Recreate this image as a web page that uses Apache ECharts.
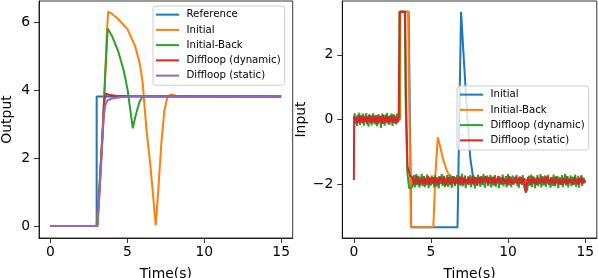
<!DOCTYPE html>
<html><head><meta charset="utf-8">
<script src="https://cdn.jsdelivr.net/npm/echarts@6/dist/echarts.min.js"></script>
<style>html,body{margin:0;padding:0;background:#fff}#c{width:598px;height:278px}</style>
</head><body><div id="c"></div>
<script>
// ---------- Tick labels ----------
const xTicks = [0, 5, 10, 15];
const yTicksLeft = [0, 2, 4, 6];
const yTicksRight = [-2, 0, 2];

// ---------- Left plot (Output) ----------
const refT = [0, 3.0, 3.0, 15];
const refV = [0, 0, 3.82, 3.82];

const initT = [0, 3.0, 3.2, 3.4, 3.55, 3.65, 3.75, 4.0, 4.4, 5.0, 5.5, 5.8, 6.0, 6.1, 6.25, 6.5, 6.7, 6.84, 7.0, 7.2, 7.4, 7.6, 7.85, 8.2, 15];
const initV = [0, 0, 1.3, 2.9, 4.4, 5.6, 6.32, 6.25, 6.1, 5.8, 5.3, 4.8, 4.2, 3.6, 2.8, 1.75, 0.75, 0.02, 1.0, 2.4, 3.4, 3.8, 3.88, 3.83, 3.82];

const backT = [0, 3.0, 3.2, 3.4, 3.55, 3.72, 4.0, 4.4, 4.75, 5.0, 5.15, 5.35, 5.5, 5.65, 5.8, 5.95, 6.15, 15];
const backV = [0, 0, 1.3, 2.9, 4.4, 5.82, 5.6, 5.15, 4.6, 4.05, 3.55, 2.88, 3.2, 3.45, 3.68, 3.79, 3.82, 3.82];

const dynT = [0, 3.05, 3.2, 3.35, 3.5, 3.6, 3.8, 4.2, 5.0, 15];
const dynV = [0, 0, 1.15, 2.45, 3.7, 3.9, 3.87, 3.84, 3.83, 3.82];

const statT = [0, 3.05, 3.2, 3.35, 3.45, 3.55, 3.7, 4.0, 4.6, 5.5, 15];
const statV = [0, 0, 1.1, 2.3, 3.15, 3.55, 3.7, 3.76, 3.8, 3.82, 3.82];

// ---------- Right plot (Input) ----------
const uInitT = [0, 3.0, 3.0, 3.55, 3.72, 6.72, 6.95, 7.15, 7.35, 7.55, 7.7, 7.85, 15];
const uInitV = [0, 0, 3.33, 3.33, -3.33, -3.33, 3.33, 1.7, 0.1, -1.2, -1.7, -1.87, -1.87];

const uBackT = [0, 3.0, 3.0, 3.52, 3.7, 5.15, 5.3, 5.44, 5.6, 5.8, 6.0, 6.2, 6.45, 15];
const uBackV = [0, 0, 3.33, 3.33, -3.33, -3.33, -1.6, -0.55, -0.85, -1.25, -1.55, -1.76, -1.87, -1.87];

// Noisy signals sampled every SAMPLE_DT seconds
const SAMPLE_DT = 0.05;

// Diffloop (dynamic)
const uDynPreStart = 0.0;
const uDynPre = [
 0.02, 0.19, -0.14, 0.08, -0.20, 0.15, -0.06, 0.21, -0.17, 0.04, 0.13, -0.11, 0.18, -0.19, 0.07,
 -0.03, 0.20, -0.15, 0.10, -0.22, 0.16, -0.08, 0.12, -0.18, 0.05, 0.19, -0.12, 0.09, -0.16, 0.14,
 -0.21, 0.06, 0.17, -0.10, 0.11, -0.26, 0.03, 0.18, -0.14, 0.08, -0.19, 0.15, -0.05, 0.20, -0.13,
 0.10, -0.17, 0.13, -0.07, 0.19, -0.20, 0.04, 0.16, -0.11, 0.09, -0.15, 0.18, -0.09, 0.12];
const uDynStepT = [2.95, 2.96, 3.3, 3.36, 3.46, 3.58];
const uDynStepV = [0.05, 3.33, 3.33, 0.5, -1.6, -2.12];
const uDynPostStart = 3.7;
const uDynPost = [
 -2.08, -2.12, -1.98, -2.05, -1.72, -2.10, -1.86, -1.69, -2.03, -1.93, -1.74, -2.11, -1.81, -1.97, -1.68,
 -2.06, -1.89, -1.75, -2.09, -1.84, -2.01, -1.70, -1.95, -2.12, -1.78, -1.91, -2.04, -1.73, -1.99, -1.83,
 -2.10, -1.71, -1.94, -2.07, -1.80, -1.88, -2.13, -1.76, -2.00, -1.85, -1.69, -2.05, -1.92, -1.74, -2.09,
 -1.82, -1.97, -1.72, -2.08, -1.87, -2.02, -1.70, -1.93, -2.11, -1.79, -1.96, -1.75, -2.06, -1.84, -1.99,
 -1.71, -2.10, -1.88, -1.77, -2.04, -1.92, -1.68, -2.07, -1.83, -1.98, -1.73, -2.12, -1.86, -1.95, -1.76,
 -2.03, -1.90, -1.72, -2.09, -1.81, -2.00, -1.74, -1.94, -2.13, -1.78, -1.87, -2.05, -1.70, -1.97, -1.85,
 -2.08, -1.75, -1.93, -2.02, -1.69, -1.89, -2.11, -1.80, -1.96, -1.73, -2.06, -1.84, -1.99, -1.71, -2.10,
 -1.86, -1.77, -2.04, -1.91, -1.72, -2.08, -1.83, -1.98, -1.74, -2.12, -1.88, -1.79, -2.01, -1.94, -1.70,
 -2.07, -1.82, -1.97, -1.75, -2.10, -1.87, -1.69, -2.03, -1.92, -1.78, -2.09, -1.85, -1.73, -1.99, -2.05,
 -1.80, -1.95, -1.71, -2.06, -1.89, -2.11, -1.76, -1.93, -1.84, -2.02, -1.72, -1.98, -2.08, -2.18, -2.26,
 -2.30, -2.15, -1.88, -1.74, -2.04, -1.91, -1.70, -2.09, -1.83, -1.97, -1.77, -2.12, -1.86, -1.95, -1.72,
 -2.06, -1.81, -1.99, -1.69, -2.10, -1.88, -1.76, -2.03, -1.92, -1.73, -2.08, -1.85, -1.97, -1.71, -2.01,
 -1.84, -2.11, -1.78, -1.94, -2.05, -1.70, -1.90, -2.07, -1.82, -1.98, -1.74, -2.12, -1.87, -1.79, -2.02,
 -1.93, -1.72, -2.09, -1.85, -1.97, -1.68, -2.04, -1.89, -1.75, -2.10, -1.83, -1.96, -1.73, -2.06, -1.88,
 -1.77, -2.02, -1.91, -1.70, -2.08, -1.86, -1.99, -1.74, -2.11, -1.84, -1.95, -1.72, -2.05, -1.90, -1.80,
 -1.97, -1.87];

// Diffloop (static)
const uStatHeadT = [0, 0.02];
const uStatHeadV = [-1.87, 0.10];
const uStatPreStart = 0.1;
const uStatPre = [
 0.12, -0.05, 0.08, -0.12, 0.14, 0.01, -0.09, 0.10, -0.03, 0.13, -0.11, 0.06, -0.07, 0.11, 0.00,
 -0.13, 0.09, -0.04, 0.14, -0.08, 0.05, -0.12, 0.12, -0.01, 0.07, -0.10, 0.13, -0.06, 0.03, -0.14,
 0.10, -0.02, 0.11, -0.09, 0.06, -0.13, 0.14, -0.05, 0.08, -0.11, 0.02, 0.12, -0.07, 0.09, -0.12,
 0.04, -0.03, 0.13, -0.10, 0.07, -0.06, 0.11, -0.13, 0.05, 0.10, -0.08, 0.03];
const uStatStepT = [2.95, 2.97, 3.33, 3.38, 3.48, 3.65];
const uStatStepV = [0.05, 3.33, 3.33, 0.6, -1.45, -1.75];
const uStatPostStart = 3.8;
const uStatPost = [
 -1.78, -1.97, -1.85, -2.01, -1.80, -1.92, -1.76, -1.99, -1.87, -1.83, -2.03, -1.79, -1.94, -1.86, -1.98,
 -1.77, -1.90, -2.02, -1.82, -1.95, -1.75, -1.88, -2.00, -1.81, -1.93, -1.84, -1.97, -1.78, -1.91, -2.01,
 -1.86, -1.79, -1.96, -1.83, -2.02, -1.76, -1.89, -1.94, -1.80, -1.99, -1.85, -1.77, -1.93, -1.88, -2.03,
 -1.81, -1.95, -1.78, -1.90, -2.00, -1.84, -1.97, -1.75, -1.92, -1.86, -2.01, -1.79, -1.94, -1.82, -1.98,
 -1.87, -1.76, -1.99, -1.83, -1.93, -1.80, -2.02, -1.88, -1.77, -1.96, -1.85, -1.91, -2.00, -1.78, -1.94,
 -1.82, -1.97, -1.86, -1.75, -2.01, -1.90, -1.79, -1.95, -1.84, -2.03, -1.81, -1.92, -1.77, -1.98, -1.87,
 -1.80, -1.94, -2.00, -1.83, -1.89, -1.76, -1.96, -1.85, -2.02, -1.78, -1.93, -1.88, -1.79, -1.99, -1.84,
 -1.91, -1.77, -2.01, -1.86, -1.95, -1.81, -1.90, -1.75, -1.97, -1.83, -2.00, -1.87, -1.78, -1.94, -1.82,
 -1.98, -1.85, -1.79, -2.03, -1.88, -1.93, -1.76, -1.96, -1.84, -1.90, -1.80, -2.01, -1.86, -1.92, -1.77,
 -1.99, -1.83, -1.95, -1.80, -2.00, -1.86, -1.78, -1.97, -1.84, -1.92, -1.81, -2.08, -2.22, -2.04, -1.87,
 -1.79, -1.96, -1.85, -2.01, -1.82, -1.93, -1.76, -1.90, -1.98, -1.83, -1.88, -2.02, -1.78, -1.95, -1.86,
 -1.81, -1.99, -1.87, -1.77, -1.94, -1.84, -2.00, -1.80, -1.91, -1.96, -1.75, -1.89, -2.03, -1.85, -1.92,
 -1.79, -1.97, -1.83, -1.93, -1.88, -2.01, -1.76, -1.95, -1.86, -1.81, -1.99, -1.84, -1.90, -1.78, -2.02,
 -1.87, -1.80, -1.94, -1.85, -1.98, -1.77, -1.92, -2.00, -1.83, -1.89, -1.79, -1.96, -1.86, -2.01, -1.82,
 -1.93, -1.78, -1.97, -1.84, -1.90, -2.02, -1.81, -1.95, -1.87, -1.76, -1.99, -1.85, -1.91, -1.80, -1.94];

// ---------- helpers ----------
const zip = (t, v) => t.map((x, i) => [x, v[i]]);
const seq = (start, vals) => vals.map((v, i) => [+(start + i * SAMPLE_DT).toFixed(3), v]);
const minus = v => (v < 0 ? '\u2212' + Math.abs(v) : String(v));

const FONT = 'DejaVu Sans';
const C = { blue: '#1f77b4', orange: '#ff7f0e', green: '#2ca02c', red: '#d62728', purple: '#9467bd' };

function xAxis(gi) {
  return {
    type: 'value', gridIndex: gi, min: -0.75, max: 15.75,
    name: 'Time(s)', nameLocation: 'middle', nameGap: 29,
    nameTextStyle: { fontFamily: FONT, fontSize: 13.9, color: '#000' },
    axisLine: { show: true, onZero: false, lineStyle: { color: '#000', width: 0.8 } },
    splitLine: { show: false },
    axisTick: { show: true, inside: false, length: 5, lineStyle: { color: '#000', width: 0.8 }, customValues: xTicks },
    axisLabel: { fontFamily: FONT, fontSize: 13.9, color: '#000', margin: 7, customValues: xTicks, formatter: minus }
  };
}
function yAxis(gi, min, max, ticks, name, gap) {
  return {
    type: 'value', gridIndex: gi, min, max,
    name, nameLocation: 'middle', nameGap: gap,
    nameTextStyle: { fontFamily: FONT, fontSize: 13.9, color: '#000' },
    axisLine: { show: true, onZero: false, lineStyle: { color: '#000', width: 0.8 } },
    splitLine: { show: false },
    axisTick: { show: true, inside: false, length: 5, lineStyle: { color: '#000', width: 0.8 }, customValues: ticks },
    axisLabel: { fontFamily: FONT, fontSize: 13.9, color: '#000', margin: 9, customValues: ticks, formatter: minus }
  };
}
function line(name, data, color, gi) {
  return {
    type: 'line', name, data, xAxisIndex: gi, yAxisIndex: gi,
    showSymbol: false, symbol: 'none', smooth: false,
    lineStyle: { color, width: 2 }, itemStyle: { color },
    emphasis: { disabled: true }, animation: false
  };
}
function legend(names, left, top) {
  return {
    data: names, orient: 'vertical', left, top,
    icon: 'rect', itemWidth: 23, itemHeight: 2, itemGap: 0,
    padding: [1, 4, 2, 3],
    backgroundColor: 'rgba(255,255,255,0.8)', borderColor: '#cccccc', borderWidth: 1, borderRadius: 3,
    textStyle: { fontFamily: FONT, fontSize: 10.2, color: '#000', lineHeight: 15.25, padding: [0, 0, 0, 2.5] },
    formatter: n => n.replace(/^R:/, ''),
    selectedMode: false
  };
}

const chart = echarts.init(document.getElementById('c'), null, { renderer: 'canvas' });
chart.setOption({
  animation: false,
  backgroundColor: '#fff',
  grid: [
    { left: 39, top: 1, width: 253.7, height: 237, show: true, borderColor: '#000', borderWidth: 0.8, containLabel: false, outerBoundsMode: 'none' },
    { left: 342.3, top: 1, width: 254.5, height: 237, show: true, borderColor: '#000', borderWidth: 0.8, containLabel: false, outerBoundsMode: 'none' }
  ],
  xAxis: [xAxis(0), xAxis(1)],
  yAxis: [
    yAxis(0, -0.35, 6.63, yTicksLeft, 'Output', 25),
    yAxis(1, -3.663, 3.663, yTicksRight, 'Input', 34)
  ],
  legend: [
    legend(['Reference', 'Initial', 'Initial-Back', 'Diffloop (dynamic)', 'Diffloop (static)'], 153, 6),
    legend(['R:Initial', 'R:Initial-Back', 'R:Diffloop (dynamic)', 'R:Diffloop (static)'], 457, 86)
  ],
  series: [
    line('Reference', zip(refT, refV), C.blue, 0),
    line('Initial', zip(initT, initV), C.orange, 0),
    line('Initial-Back', zip(backT, backV), C.green, 0),
    line('Diffloop (dynamic)', zip(dynT, dynV), C.red, 0),
    line('Diffloop (static)', zip(statT, statV), C.purple, 0),
    line('R:Initial', zip(uInitT, uInitV), C.blue, 1),
    line('R:Initial-Back', zip(uBackT, uBackV), C.orange, 1),
    line('R:Diffloop (dynamic)', seq(uDynPreStart, uDynPre).concat(zip(uDynStepT, uDynStepV), seq(uDynPostStart, uDynPost)), C.green, 1),
    line('R:Diffloop (static)', zip(uStatHeadT, uStatHeadV).concat(seq(uStatPreStart, uStatPre), zip(uStatStepT, uStatStepV), seq(uStatPostStart, uStatPost)), C.red, 1)
  ]
});
</script></body></html>
